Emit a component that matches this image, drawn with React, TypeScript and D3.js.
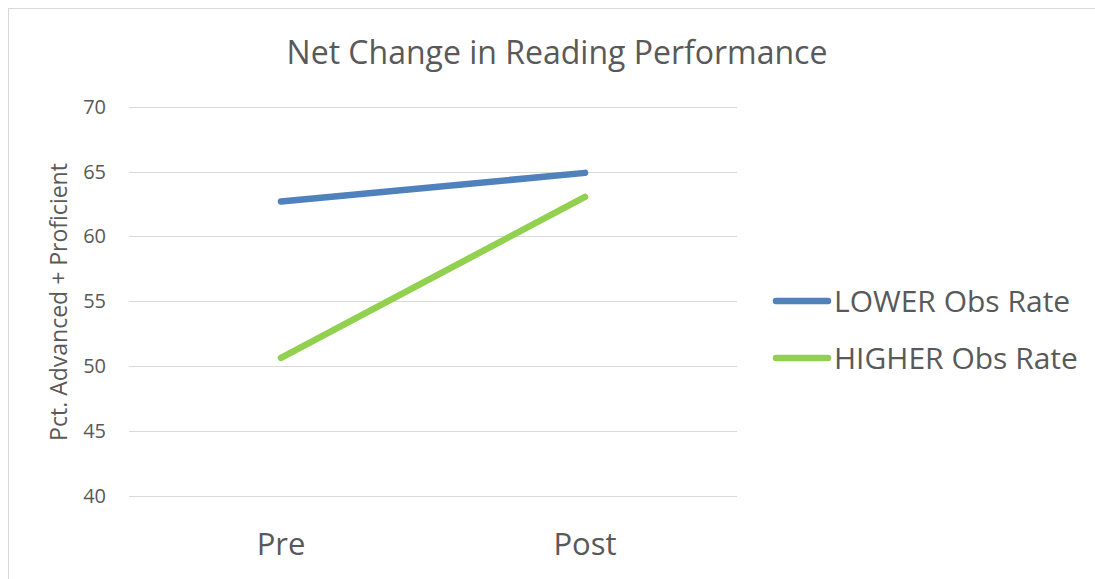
import React from "react";
import * as d3 from "d3";

const categories = ["Pre", "Post"];
const seriesNames = ["LOWER Obs Rate", "HIGHER Obs Rate"];
const lowerValues = [62.7, 64.9];
const higherValues = [50.65, 63.05];
const yTicks = [40, 45, 50, 55, 60, 65, 70];
const colors = ["#4F81BD", "#92D050"];

const FONT = "'Open Sans', 'Noto Sans', sans-serif";
const TEXT = "#595959";

export default function App() {
  const x = d3.scalePoint<string>().domain(categories).range([129, 737]).padding(0.5);
  const y = d3.scaleLinear().domain([40, 70]).range([496, 106.7]);
  const line = d3
    .line<number>()
    .x((_, i) => x(categories[i]) as number)
    .y((d) => y(d));
  const series = [lowerValues, higherValues];
  const legendY = [301, 358];

  return (
    <svg
      width={1095}
      height={579}
      style={{ position: "absolute", left: 0, top: 0, background: "#fff" }}
      fontFamily={FONT}
    >
      <rect x={8.5} y={8.5} width={1200} height={700} fill="#fff" stroke="#d9d9d9" strokeWidth={1} />
      <text x={557} y={64} textAnchor="middle" fontSize={32} fill={TEXT}>
        Net Change in Reading Performance
      </text>
      {yTicks.map((t) => (
        <g key={t}>
          <line x1={129} x2={737} y1={Math.round(y(t)) + 0.5} y2={Math.round(y(t)) + 0.5} stroke="#d9d9d9" strokeWidth={1} />
          <text x={106} y={y(t)} dy="0.35em" textAnchor="end" fontSize={20} fill={TEXT}>
            {t}
          </text>
        </g>
      ))}
      <text
        transform={`translate(67,302) rotate(-90)`}
        textAnchor="middle"
        fontSize={23}
        fill={TEXT}
      >
        Pct. Advanced + Proficient
      </text>
      {categories.map((c) => (
        <text key={c} x={x(c)} y={555} textAnchor="middle" fontSize={31} fill={TEXT}>
          {c}
        </text>
      ))}
      {series.map((s, i) => (
        <path
          key={i}
          d={line(s) || ""}
          fill="none"
          stroke={colors[i]}
          strokeWidth={6.5}
          strokeLinecap="round"
        />
      ))}
      {seriesNames.map((n, i) => (
        <g key={n}>
          <line x1={776} x2={828} y1={legendY[i]} y2={legendY[i]} stroke={colors[i]} strokeWidth={6.5} strokeLinecap="round" />
          <text x={834} y={legendY[i]} dy="0.35em" fontSize={30} fill={TEXT}>
            {n}
          </text>
        </g>
      ))}
    </svg>
  );
}
